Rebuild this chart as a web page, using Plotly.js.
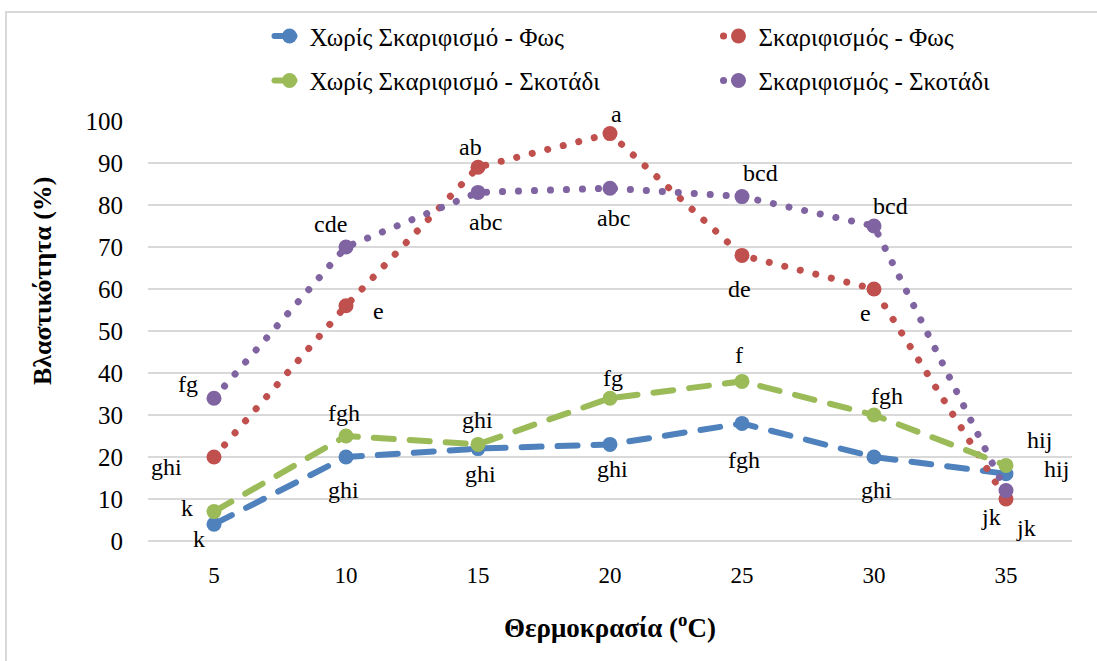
<!DOCTYPE html>
<html>
<head>
<meta charset="utf-8">
<script src="https://cdn.plot.ly/plotly-3.0.1.min.js"></script>
<style>
  html, body { margin: 0; padding: 0; background: #fff; }
  #chart { width: 1097px; height: 661px; }
  /* rounded ends for the dashed and dotted series lines */
  .scatterlayer .js-line, .legendlines path { stroke-linecap: round; }
</style>
</head>
<body>
<div id="chart"></div>
<script>
// Temperature categories (°C)
const temperatures = ['5', '10', '15', '20', '25', '30', '35'];

// Germination (%) per treatment
const noScarLight = [4, 20, 22, 23, 28, 20, 16];
const scarLight   = [20, 56, 89, 97, 68, 60, 10];
const noScarDark  = [7, 25, 23, 34, 38, 30, 18];
const scarDark    = [34, 70, 83, 84, 82, 75, 12];

// Significance letters per treatment
const noScarLightLetters = ['k', 'ghi', 'ghi', 'ghi', 'fgh', 'ghi', 'hij'];
const scarLightLetters   = ['ghi', 'e', 'ab', 'a', 'de', 'e', 'jk'];
const noScarDarkLetters  = ['k', 'fgh', 'ghi', 'fg', 'f', 'fgh', 'hij'];
const scarDarkLetters    = ['fg', 'cde', 'abc', 'abc', 'bcd', 'bcd', 'jk'];

// Series names
const seriesNames = [
  'Χωρίς Σκαριφισμό - Φως',
  'Σκαριφισμός - Φως',
  'Χωρίς Σκαριφισμό - Σκοτάδι',
  'Σκαριφισμός - Σκοτάδι'
];

const SERIF = '"Liberation Serif", "Times New Roman", serif';
const colors = ['#4F81BD', '#C0504D', '#9BBB59', '#8064A2'];
const dashed = '20px,16px';
const dotted = '0.1px,15.9px';

function series(name, y, color, width, dash, legendId) {
  return {
    type: 'scatter', mode: 'lines+markers', name: name,
    x: temperatures, y: y,
    legend: legendId, legendgroup: name,
    line: { color: color, width: width, dash: dash },
    marker: { color: color, size: 15 }
  };
}

const data = [
  series(seriesNames[0], noScarLight, colors[0], 6, dashed, 'legend'),
  series(seriesNames[1], scarLight, colors[1], 7, dotted, 'legend2'),
  series(seriesNames[2], noScarDark, colors[2], 6, dashed, 'legend'),
  series(seriesNames[3], scarDark, colors[3], 7, dotted, 'legend2')
];

// Letter placement (pixel offsets from each point)
const offsets = [
  [[-15, -15], [-3, -33], [2, -25], [2, -25], [2, -37], [2, -33], [50, 5]],
  [[-48, -10], [32, -5], [-8, 20], [6, 20], [-3, -34], [-9, -24], [20, -29]],
  [[-27, 4], [-2, 23], [-1, 24], [3, 20], [-3, 26], [13, 19], [33, 25]],
  [[-26, 14], [-16, 23], [7, -30], [3, -30], [18, 24], [16, 20], [-15, -26]]
];
const letterSets = [noScarLightLetters, scarLightLetters, noScarDarkLetters, scarDarkLetters];
const valueSets = [noScarLight, scarLight, noScarDark, scarDark];

const annotations = [];
letterSets.forEach((letters, s) => {
  letters.forEach((txt, i) => {
    annotations.push({
      x: i, y: valueSets[s][i], xref: 'x', yref: 'y',
      text: txt, showarrow: false,
      xshift: offsets[s][i][0], yshift: offsets[s][i][1],
      font: { family: SERIF, size: 24, color: '#000' }
    });
  });
});

// Y axis title, centred a little above the middle of the plot
annotations.push({
  xref: 'paper', yref: 'paper', x: -0.1147, y: 0.619,
  xanchor: 'center', yanchor: 'middle', textangle: -90, showarrow: false,
  text: '<b>Βλαστικότητα (%)</b>',
  font: { family: SERIF, size: 26, color: '#000' }
});

const legendStyle = (x) => ({
  orientation: 'v', x: x, xanchor: 'left', y: 1.2564, yanchor: 'top',
  tracegroupgap: 9,
  font: { family: SERIF, size: 25, color: '#000' },
  bgcolor: 'rgba(0,0,0,0)'
});

const layout = {
  width: 1097, height: 661,
  paper_bgcolor: '#fff', plot_bgcolor: '#fff',
  margin: { l: 148, r: 25, t: 121, b: 120, autoexpand: false },
  font: { family: SERIF, color: '#000' },
  showlegend: true,
  legend: legendStyle(0.1315),
  legend2: legendStyle(0.6174),
  xaxis: {
    type: 'category', range: [-0.5, 6.5],
    showgrid: false, zeroline: false, showline: false, ticks: '',
    tickfont: { family: SERIF, size: 23, color: '#000' },
    ticklabelstandoff: 18,
    title: { text: '<b>Θερμοκρασία (<sup>o</sup>C)</b>', font: { family: SERIF, size: 27, color: '#000' }, standoff: 31 }
  },
  yaxis: {
    range: [0, 100], dtick: 10, fixedrange: true,
    showgrid: true, gridcolor: '#D9D9D9', gridwidth: 2,
    zeroline: true, zerolinecolor: '#D9D9D9', zerolinewidth: 2,
    showline: false, ticks: '',
    tickfont: { family: SERIF, size: 25, color: '#000' },
    ticklabelstandoff: 24
  },
  shapes: [{
    type: 'rect', xref: 'paper', yref: 'paper',
    x0: -0.1537, x1: 1.05, y0: -0.35, y1: 1.2595,
    line: { color: '#D9D9D9', width: 2 }, fillcolor: 'rgba(0,0,0,0)', layer: 'below'
  }],
  annotations: annotations
};

Plotly.newPlot('chart', data, layout, { displayModeBar: false, staticPlot: true });
</script>
</body>
</html>
